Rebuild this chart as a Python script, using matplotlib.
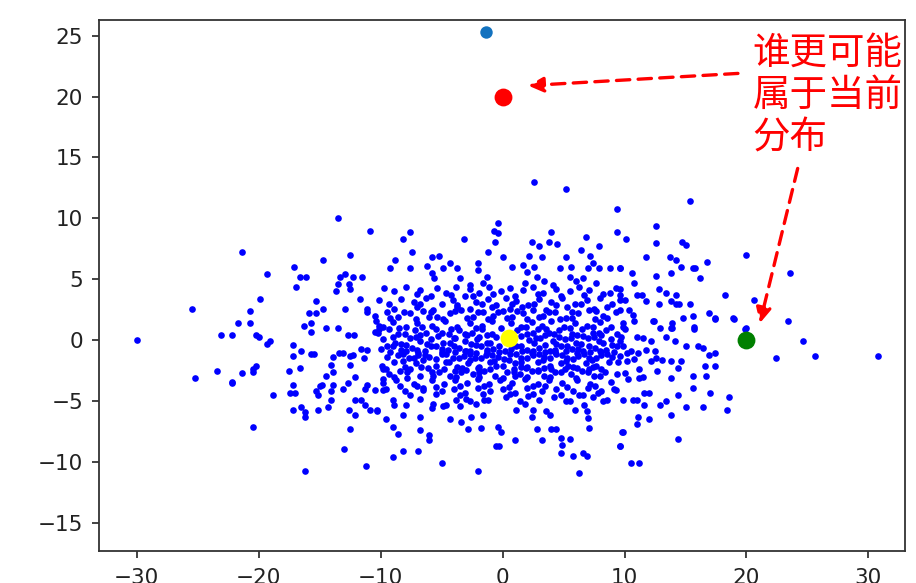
import numpy as np
import matplotlib
matplotlib.use("Agg")
import matplotlib.pyplot as plt

# blue sample cloud
pts_far_left = [
    (-30.0, 0.0), (-25.5, 2.6), (-25.2, -3.1), (-23.4, -2.5), (-23.1, 0.4), (-22.2, 0.4),
    (-22.2, -3.4), (-22.2, -3.5), (-21.7, 1.4), (-21.4, 7.2), (-21.4, -2.7), (-20.7, 1.4),
    (-20.7, 2.4), (-20.5, -2.4), (-20.2, -2.1), (-20.5, -2.6), (-20.5, -7.1), (-20.2, 0.4),
    (-20.0, 0.3), (-19.9, 3.4), (-19.3, 5.4), (-19.3, -0.3), (-19.1, -0.1), (-18.8, -4.5),
]
pts_left = [
    (-17.1, 6.0), (-16.6, 5.2), (-16.1, 5.2), (-16.9, 4.4), (-14.7, 6.6), (-12.5, 7.0),
    (-13.5, 10.0), (-10.9, 9.0), (-13.3, 5.2), (-12.9, 5.4), (-12.3, 5.2), (-11.5, 5.2),
    (-13.5, 4.6), (-12.6, 4.6), (-12.5, 4.2), (-13.7, 4.0), (-15.3, 3.2), (-14.7, 2.6),
    (-15.9, 2.2), (-15.3, 2.2), (-12.9, 2.6), (-11.7, 3.4), (-11.1, 2.6), (-11.1, 2.3),
    (-16.3, 1.2), (-15.7, 1.4), (-14.5, 1.0), (-13.5, 1.0), (-10.4, 1.6), (-15.7, 0.7),
    (-17.2, -0.4), (-17.2, -1.3), (-16.5, -0.9), (-15.7, -1.1), (-15.5, -1.1), (-12.7, 0.4),
    (-12.2, 0.4), (-10.5, 0.7), (-10.1, 0.9), (-9.8, 1.1), (-13.9, -1.4), (-13.4, -1.05),
    (-13.1, -1.05), (-12.5, -1.3), (-12.3, -1.2), (-12.5, -2.0), (-11.6, -0.7), (-11.1, -0.8),
    (-11.4, -1.5), (-14.1, -2.0), (-13.9, -2.6), (-14.5, -2.9), (-17.5, -2.5), (-16.6, -2.3),
    (-17.2, -3.7), (-17.4, -4.3), (-17.0, -4.3), (-15.3, -4.2), (-15.0, -3.8), (-14.8, -3.7),
    (-15.1, -4.5), (-13.9, -3.7), (-14.1, -4.2), (-14.1, -4.9), (-13.1, -4.0), (-12.7, -3.5),
    (-12.1, -3.0), (-11.3, -4.0), (-11.1, -3.7), (-10.5, -4.1), (-12.1, -4.9), (-11.6, -4.9),
    (-11.3, -5.3), (-10.9, -5.7), (-10.3, -5.8), (-17.2, -5.7), (-16.5, -5.5), (-16.2, -5.9),
    (-16.2, -6.3), (-15.1, -5.7), (-14.3, -5.5), (-12.6, -5.7), (-12.1, -6.1), (-12.5, -7.3),
    (-13.0, -8.9), (-16.2, -10.7), (-11.2, -10.3), (-9.8, -2.4), (-9.8, -3.2), (-9.8, -4.1),
]
pts_center_top = [
    (2.6, 13.0), (5.2, 12.4), (9.4, 10.8), (9.4, 8.9), (10.1, 8.3), (-7.6, 8.9), (-8.2, 8.3),
    (-7.4, 7.2), (-3.2, 8.3), (-0.4, 9.6), (-0.7, 9.0), (-0.4, 8.8), (-0.6, 8.1), (4.0, 8.9),
    (3.8, 8.1), (4.5, 7.9), (2.4, 8.1), (3.0, 7.7), (6.8, 8.5), (7.9, 7.7), (6.4, 7.4),
    (7.2, 6.9), (-1.2, 7.2), (0.0, 6.8), (2.2, 6.9), (3.2, 6.8), (5.2, 6.8), (-8.8, 6.6),
    (-9.2, 5.9), (-7.6, 5.9), (-5.8, 6.8), (-5.2, 6.9), (-4.3, 6.3), (-4.9, 5.9), (-6.2, 6.1),
    (-5.8, 5.5), (-5.6, 5.1), (-3.7, 5.9), (-3.5, 5.1), (-2.0, 6.3), (-2.0, 5.8), (-1.3, 5.2),
    (-2.7, 4.5), (-1.6, 4.7), (0.8, 6.0), (1.7, 6.2), (2.0, 5.6), (2.6, 6.0), (2.8, 5.2),
    (1.8, 4.7), (3.4, 4.9), (4.1, 4.5), (4.7, 5.9), (5.5, 5.2), (6.0, 4.9), (5.6, 6.0),
    (7.0, 5.9), (6.6, 5.1), (7.4, 6.3), (7.9, 5.9), (7.7, 4.7), (8.8, 5.9), (9.6, 5.9),
    (8.8, 3.9), (9.6, 3.7),
    (-9.7, 4.3), (-8.9, 4.0), (-7.9, 4.4), (-6.8, 4.1), (-5.4, 4.3), (-4.6, 3.9), (-3.8, 4.4),
    (-2.7, 4.2), (-1.9, 3.9), (-1.1, 4.4), (-0.1, 4.0), (0.6, 4.3), (1.7, 4.1), (2.5, 4.4),
    (3.3, 3.9), (4.4, 4.2), (5.5, 4.0), (6.3, 4.4), (7.1, 4.1), (8.2, 3.8), (9.3, 4.3),
    (-10.1, 3.3), (-9.3, 3.0), (-8.3, 3.4), (-7.3, 3.1), (-6.3, 3.5), (-5.0, 3.0), (-4.1, 3.3),
    (-3.1, 3.6), (-2.2, 3.1), (-1.2, 3.4), (-0.5, 2.9), (0.3, 3.5), (1.1, 3.2), (2.1, 2.9),
    (3.0, 3.4), (4.0, 3.1), (4.9, 3.5), (5.9, 3.0), (6.9, 3.3), (8.0, 3.5), (9.0, 3.0), (10.0, 3.3),
    (-10.5, 2.0), (-9.5, 2.3), (-8.6, 1.9), (-7.6, 2.2), (-6.5, 2.4), (-5.4, 1.9), (-4.3, 2.2),
    (-3.4, 2.5), (-2.4, 1.9), (-1.6, 2.3), (-0.8, 2.0), (0.0, 2.4), (0.8, 1.9), (1.7, 2.2),
    (2.5, 2.5), (3.3, 2.0), (4.3, 2.3), (5.2, 1.8), (6.2, 2.2), (7.1, 2.5), (8.2, 2.0), (9.3, 2.3),
    (-10.1, 1.2), (-9.0, 1.5), (-7.9, 1.1), (-7.0, 1.4), (-5.8, 1.2), (-4.7, 1.6), (-3.7, 1.1),
    (-2.7, 1.4), (-1.7, 1.2), (-0.9, 1.6), (-0.1, 1.0), (0.7, 1.4), (1.5, 1.1), (2.4, 1.5),
    (3.2, 1.2), (4.0, 1.6), (5.0, 1.1), (5.9, 1.4), (6.9, 1.2), (8.0, 1.5), (8.9, 1.1), (9.9, 1.4),
]
pts_center_low = [
    (-10.2, 0.6), (-9.3, 0.9), (-8.0, 0.5), (-7.2, 0.8), (-6.3, 0.6), (-5.5, 0.9), (-4.4, 0.5),
    (-3.6, 0.8), (-2.5, 0.6), (-1.7, 0.9), (-0.9, 0.5), (1.2, 0.8), (2.0, 0.5), (2.9, 0.9),
    (3.8, 0.6), (4.6, 0.8), (5.7, 0.5), (6.5, 0.9), (7.4, 0.6), (8.5, 0.8), (9.4, 0.5),
    (-9.8, 0.1), (-8.8, -0.2), (-7.6, 0.2), (-6.8, -0.1), (-5.9, 0.1), (-4.9, -0.2), (-4.0, 0.2),
    (-3.1, -0.1), (-2.1, 0.1), (-1.3, -0.2), (2.2, 0.0), (3.1, 0.2), (4.1, -0.1), (5.1, 0.1),
    (6.0, -0.2), (7.0, 0.2), (7.9, -0.1), (8.9, 0.1),
    (-10.0, -0.7), (-9.0, -0.5), (-8.3, -0.8), (-7.4, -0.6), (-6.4, -0.9), (-5.5, -0.5),
    (-4.5, -0.8), (-3.6, -0.6), (-2.7, -0.9), (-1.8, -0.5), (-0.8, -0.7), (0.2, -0.9),
    (1.1, -0.5), (2.0, -0.8), (3.0, -0.6), (3.9, -0.9), (4.8, -0.5), (5.7, -0.7), (6.6, -0.9),
    (7.6, -0.6), (8.5, -0.8), (9.4, -0.5),
    (-9.5, -1.4), (-8.6, -1.2), (-7.7, -1.5), (-6.9, -1.2), (-6.0, -1.4), (-5.0, -1.1),
    (-4.1, -1.5), (-3.2, -1.3), (-2.3, -1.5), (-1.4, -1.2), (-0.4, -1.4), (0.6, -1.1),
    (1.5, -1.5), (2.5, -1.2), (3.4, -1.4), (4.4, -1.1), (5.3, -1.5), (6.2, -1.3), (7.1, -1.5),
    (8.1, -1.2), (9.0, -1.4),
    (-9.9, -2.1), (-8.9, -1.8), (-8.0, -2.2), (-7.1, -1.9), (-5.5, -2.1), (-4.6, -1.8),
    (-3.7, -2.2), (-2.8, -1.9), (-1.9, -2.2), (-1.0, -1.8), (0.0, -2.1), (1.0, -1.9),
    (2.0, -2.2), (2.9, -1.8), (3.9, -2.1), (4.8, -1.9), (5.8, -2.2), (6.8, -1.9), (7.7, -2.1),
    (8.7, -1.8),
    (-9.3, -2.8), (-8.4, -2.5), (-6.8, -2.9), (-5.2, -2.6), (-4.3, -2.9), (-3.4, -2.6),
    (-2.4, -2.8), (-1.5, -2.5), (-0.6, -2.9), (0.4, -2.6), (1.4, -2.8), (2.4, -2.5),
    (3.4, -2.9), (4.3, -2.6), (5.6, -2.8), (6.5, -2.5), (7.5, -2.9), (8.4, -2.6), (9.4, -2.8),
    (-9.8, -3.5), (-8.7, -3.3), (-7.3, -3.6), (-5.8, -3.3), (-4.8, -3.6), (-3.9, -3.3),
    (-2.9, -3.5), (-2.0, -3.2), (-1.1, -3.6), (-0.2, -3.3), (0.8, -3.5), (1.8, -3.2),
    (2.9, -3.6), (3.8, -3.3), (4.9, -3.5), (6.1, -3.3), (7.2, -3.6), (8.9, -3.4),
    (-9.6, -4.0), (-8.0, -4.2), (-6.5, -3.9), (-5.0, -4.2), (-4.0, -4.0), (-3.1, -4.3),
    (-2.0, -3.9), (-1.0, -4.2), (0.0, -4.0), (1.0, -4.3), (2.0, -3.9), (3.2, -4.2),
    (4.4, -4.0), (5.8, -4.2), (7.0, -3.9), (8.1, -4.2), (9.1, -4.0),
    (-3.0, -4.8), (-1.2, -4.9), (0.3, -4.7), (1.4, -5.0), (2.1, -4.6), (3.0, -4.9),
    (4.2, -4.7), (5.2, -5.0), (7.4, -4.7), (8.6, -4.9),
]
# extra points packed into the crowded core
pts_core = [
    (-7.0, 3.8), (-5.9, 3.6), (-4.2, 3.75), (-2.4, 3.6), (-0.8, 3.8), (1.0, 3.65), (2.9, 3.8),
    (4.8, 3.6), (6.7, 3.75),
    (-8.9, 2.6), (-7.0, 2.75), (-5.7, 2.5), (-3.7, 2.7), (-2.7, 2.55), (-0.9, 2.75), (0.6, 2.6),
    (1.6, 2.7), (3.6, 2.5), (5.3, 2.7), (7.5, 2.6), (8.6, 2.75),
    (-9.2, 1.8), (-7.1, 1.7), (-6.0, 1.9), (-4.9, 1.75), (-2.9, 1.85), (-1.2, 1.7), (0.4, 1.8),
    (2.0, 1.75), (3.0, 1.9), (4.7, 1.7), (5.7, 1.85), (7.6, 1.75), (8.6, 1.8),
    (-9.0, 0.3), (-7.1, 0.25), (-5.3, 0.35), (-3.9, 0.2), (-2.9, 0.4), (-1.9, 0.3), (-0.5, 0.25),
    (1.5, 0.35), (2.7, 0.2), (3.5, 0.4), (4.6, 0.3), (5.6, 0.2), (6.6, 0.35), (7.5, 0.25),
    (8.1, 0.4), (9.7, 0.3),
    (-8.3, -0.3), (-6.2, -0.35), (-4.3, -0.25), (-2.6, -0.3), (-1.0, -0.2), (0.8, -0.35),
    (2.6, -0.25), (4.4, -0.3), (6.4, -0.35), (8.2, -0.25),
    (-9.2, -1.0), (-7.9, -0.9), (-6.9, -1.05), (-5.0, -0.95), (-3.9, -1.0), (-3.0, -0.9),
    (-2.2, -1.05), (-1.3, -0.95), (-0.3, -1.0), (1.6, -0.9), (2.4, -1.05), (3.5, -0.95),
    (4.3, -1.0), (5.2, -0.9), (6.1, -1.05), (7.2, -1.0), (8.1, -0.95), (9.1, -1.0),
    (-8.2, -1.7), (-6.5, -1.65), (-4.4, -1.75), (-2.7, -1.6), (-0.7, -1.7), (0.5, -1.65),
    (1.5, -1.75), (3.3, -1.6), (5.2, -1.7), (7.3, -1.65), (9.5, -1.75),
    (-9.6, -2.35), (-7.6, -2.4), (-6.1, -2.3), (-4.8, -2.35), (-3.0, -2.45), (-2.0, -2.3),
    (-1.0, -2.4), (0.9, -2.35), (1.9, -2.3), (2.9, -2.45), (4.0, -2.35), (5.1, -2.4),
    (6.1, -2.3), (7.1, -2.4), (8.1, -2.35),
    (-8.9, -3.0), (-7.8, -3.1), (-5.7, -2.95), (-3.8, -3.05), (-1.9, -3.0), (0.0, -3.1),
    (1.0, -2.95), (2.0, -3.05), (3.9, -3.0), (6.0, -3.1), (8.0, -2.95),
    (-8.4, -3.8), (-7.0, -3.75), (-5.5, -3.85), (-3.5, -3.8), (-1.5, -3.75), (0.5, -3.85),
    (2.5, -3.8), (3.5, -3.75), (5.3, -3.85), (7.6, -3.8),
    (-5.5, -4.4), (-3.5, -4.5), (-1.6, -4.4), (0.6, -4.45), (2.5, -4.4), (4.8, -4.5),
]
pts_core_inner = [
    (-6.8, 2.95), (-3.7, 2.9), (-1.7, 3.0), (0.8, 2.95), (2.6, 3.0), (4.4, 2.9), (6.4, 2.95),
    (-8.1, 2.35), (-5.9, 2.3), (-3.9, 2.4), (-2.0, 2.35), (-0.4, 2.3), (1.2, 2.4), (3.8, 2.35),
    (5.7, 2.3), (7.7, 2.4),
    (-8.5, 1.0), (-6.6, 1.05), (-4.2, 0.95), (-2.2, 1.0), (1.9, 1.05), (3.6, 0.95), (5.5, 1.0),
    (7.4, 1.05),
    (-8.6, 0.5), (-6.8, 0.45), (-5.0, 0.55), (-3.1, 0.5), (-1.3, 0.45), (2.5, 0.55), (4.2, 0.5),
    (6.1, 0.45), (7.9, 0.55),
    (-9.5, -0.45), (-7.9, -0.4), (-5.9, -0.5), (-4.0, -0.45), (-2.2, -0.4), (-0.3, -0.5),
    (1.5, -0.45), (3.5, -0.4), (5.3, -0.5), (7.1, -0.45), (9.0, -0.4),
    (-7.0, -0.8), (-5.0, -0.75), (-3.1, -0.85), (-1.3, -0.8), (0.7, -0.75), (2.5, -0.85),
    (4.3, -0.8), (6.2, -0.75), (8.0, -0.85),
    (-8.2, -1.15), (-6.4, -1.2), (-4.6, -1.1), (-2.7, -1.15), (-0.9, -1.2), (1.1, -1.1),
    (3.0, -1.15), (4.9, -1.2), (6.7, -1.1), (8.6, -1.15),
    (-7.3, -1.5), (-5.5, -1.55), (-3.6, -1.45), (-1.8, -1.5), (0.1, -1.55), (2.0, -1.45),
    (3.9, -1.5), (5.8, -1.55), (7.7, -1.45),
    (-6.7, -2.2), (-3.3, -2.25), (-0.5, -2.15), (1.5, -2.2), (3.4, -2.25), (5.4, -2.15),
    (7.4, -2.2),
    (-7.8, -2.6), (-5.8, -2.65), (-3.9, -2.55), (-1.9, -2.6), (0.9, -2.65), (2.9, -2.55),
    (4.8, -2.6), (7.0, -2.65),
]
pts_center_bottom = [
    (-9.0, -4.9), (-8.9, -5.3), (-7.9, -5.3), (-7.6, -4.5), (-6.5, -4.1), (-6.8, -4.8),
    (-5.7, -5.2), (-5.8, -5.6), (-4.9, -5.4), (-4.6, -5.3), (-3.8, -4.9), (-3.5, -5.4),
    (-2.7, -5.0), (-2.2, -5.2), (-1.5, -4.9), (-10.3, -5.7), (-9.6, -6.45), (-8.2, -6.1),
    (-6.8, -6.3), (-4.3, -6.45), (-3.4, -6.7), (-2.6, -6.3), (-1.6, -6.1), (-9.0, -7.1),
    (-8.6, -7.7), (-6.8, -7.4), (-6.0, -7.8), (-6.0, -8.2), (-8.2, -9.1), (-6.9, -9.1),
    (-9.0, -9.6), (-5.0, -10.1), (-2.0, -10.7), (-2.8, -7.3), (-1.75, -7.2), (-0.4, -7.1),
    (-0.1, -7.5), (-0.5, -8.7), (-0.3, -8.7), (1.0, -8.2), (1.1, -5.7), (1.8, -5.2),
    (2.5, -5.7), (2.4, -6.3), (3.6, -5.8), (3.9, -6.1), (2.8, -7.3), (4.0, -7.3), (4.4, -7.3),
    (3.2, -8.2), (4.8, -8.0), (5.5, -8.1), (4.9, -8.6), (4.8, -9.3), (5.8, -9.5), (6.6, -9.3),
    (6.9, -9.5), (6.3, -10.9), (5.5, -5.0), (5.9, -5.7), (6.7, -5.3), (6.6, -4.5), (7.0, -6.4),
    (7.1, -7.2), (6.9, -5.8), (8.2, -5.0), (7.8, -4.3), (9.3, -4.1), (9.9, -4.9), (9.8, -7.5),
    (9.6, -8.7), (6.3, -4.5),
]
pts_right = [
    (15.4, 11.4), (12.6, 9.4), (12.6, 8.0), (14.7, 8.1), (15.0, 7.8), (11.8, 6.8), (13.7, 6.8),
    (14.2, 6.6), (14.6, 6.0), (16.8, 6.4), (20.0, 7.0), (9.6, 5.9), (10.6, 5.5), (10.8, 4.7),
    (12.6, 5.3), (13.8, 5.5), (15.6, 5.9), (15.8, 5.9), (16.2, 5.1), (23.6, 5.5), (9.6, 4.2),
    (11.0, 3.7), (11.4, 3.7), (12.8, 4.2), (13.4, 3.9), (14.2, 3.7), (18.2, 3.7), (20.6, 3.3),
    (9.6, 3.3), (11.8, 3.2), (12.8, 3.0), (13.8, 3.2), (14.2, 3.0), (14.5, 3.0), (15.4, 3.0),
    (9.6, 2.5), (10.4, 2.5), (10.7, 2.1), (10.8, 1.6), (12.4, 1.6), (13.9, 1.4), (14.8, 1.8),
    (15.6, 2.0), (16.9, 2.2), (17.4, 1.8), (18.9, 1.8), (23.4, 1.6), (20.0, 1.0), (9.9, 1.1),
    (12.9, 1.0), (15.7, 1.1), (13.8, 1.0), (17.4, 1.7), (19.0, 1.7), (12.3, 1.55),
    (19.9, 0.9), (24.6, -0.1), (22.4, -1.5), (25.6, -1.3), (30.8, -1.3),
    (10.0, 0.9), (11.0, 0.3), (11.5, 0.2), (12.2, -0.1), (13.4, 0.3), (13.9, 1.0), (15.7, 0.9),
    (14.1, -0.1), (15.0, -0.45), (16.0, -0.45), (16.4, -0.65), (16.9, -1.2), (17.4, -1.05),
    (9.6, -0.1), (9.9, -0.5), (9.6, -1.3), (10.2, -1.05), (10.5, -0.9), (10.8, -1.55),
    (10.2, -1.7), (11.1, -1.05), (11.8, -0.8), (12.5, -0.9), (12.6, -1.5), (13.1, -1.6),
    (13.8, -1.7), (14.6, -1.7), (14.4, -2.3), (12.2, -1.7), (12.7, -2.5), (11.2, -2.4),
    (10.0, -2.7), (10.3, -3.2), (11.2, -3.1), (11.5, -3.0), (13.8, -3.1), (15.6, -2.9),
    (16.7, -2.9), (16.6, -2.1), (17.4, -2.1), (15.6, -3.9), (17.0, -4.3), (18.6, -4.7),
    (18.4, -5.7), (16.4, -5.5), (15.0, -5.5), (14.4, -4.5), (11.6, -4.3), (12.0, -4.3),
    (10.7, -4.9), (11.0, -4.9), (12.9, -5.3), (13.4, -5.0), (11.6, -5.3), (13.8, -6.1),
    (11.1, -6.3), (11.0, -6.9), (12.0, -6.5), (9.9, -7.5), (9.6, -8.7), (14.4, -8.1),
    (10.5, -10.1), (11.2, -10.1),
]

cloud = np.array(pts_far_left + pts_left + pts_center_top + pts_center_low + pts_core
                 + pts_core_inner + pts_center_bottom + pts_right)

# highlighted points
red_pt = (0.0, 20.0)
green_pt = (20.0, 0.0)
yellow_pt = (0.5, 0.15)
top_pt = (-1.4, 25.3)

label = "谁更可能\n属于当前\n分布"

fig = plt.figure(figsize=(9.16, 5.83), dpi=100)
ax = fig.add_axes([0.108, 0.055, 0.880, 0.911])

ax.scatter(cloud[:, 0], cloud[:, 1], s=23, color="#0000ff", linewidths=0, zorder=2)
ax.scatter(*top_pt, s=80, color="#1372bf", linewidths=0, zorder=3)
ax.scatter(*red_pt, s=165, color="#ff0000", linewidths=0, zorder=3)
ax.scatter(*green_pt, s=165, color="#008000", linewidths=0, zorder=3)
ax.scatter(*yellow_pt, s=165, color="#ffff00", linewidths=0, zorder=3)

arrow = dict(arrowstyle="-|>,head_length=0.9,head_width=0.45", color="red",
             lw=2.4, linestyle=(0, (4, 2.5)), shrinkA=0, shrinkB=0)
ax.annotate("", xy=(2.1, 20.9), xytext=(19.3, 21.9), arrowprops=arrow, zorder=4)
ax.annotate("", xy=(21.1, 1.4), xytext=(24.2, 14.1), arrowprops=arrow, zorder=4)

ax.text(20.5, 25.2, label, color="red", fontsize=27, va="top", ha="left",
        linespacing=1.12, family=["Noto Sans CJK SC", "DejaVu Sans"], zorder=5)

ax.set_xlim(-33.1, 33.0)
ax.set_ylim(-17.3, 26.3)
ax.set_xticks(np.arange(-30, 31, 10))
ax.set_yticks(np.arange(-15, 26, 5))
ax.tick_params(labelsize=15.5, length=5.3, width=1.2, colors="#222222")
ax.tick_params(axis="x", pad=7)
ax.tick_params(axis="y", pad=6)
for sp in ax.spines.values():
    sp.set_linewidth(1.3)
    sp.set_color("#333333")

fig.savefig("out.png", dpi=100)
